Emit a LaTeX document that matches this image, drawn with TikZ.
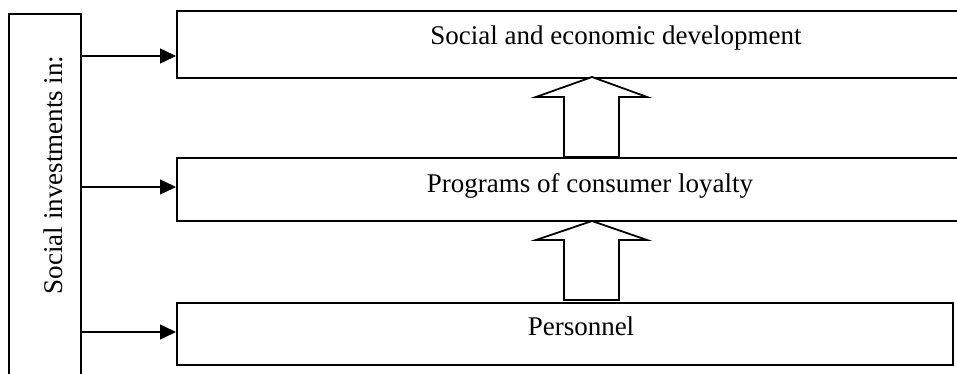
\documentclass[tikz,border=0pt]{standalone}
\usepackage{fontspec}
\setmainfont{Liberation Serif}
\usetikzlibrary{arrows.meta}
\begin{document}
\begin{tikzpicture}[x=1pt,y=-1pt,
  box/.style={draw,line width=1.8pt,rectangle,inner sep=0pt,anchor=north west},
  lbl/.style={font=\fontsize{27}{32}\selectfont,inner sep=0pt,anchor=base},
  feed/.style={line width=1.5pt,-{Triangle[length=16pt,width=15pt]}},
  bigarrow/.style={draw,line width=1.8pt,fill=white,line join=miter}]
\useasboundingbox (0,0) rectangle (957,374);
\clip (0,0) rectangle (957,374);

% vertical box on the left
\node[box,minimum width=72pt,minimum height=400pt] (inv) at (8,13) {};
\node[lbl,rotate=90] (invt) at (62,175) {Social investments in:};

% three level boxes
\node[box,minimum width=900pt,minimum height=67pt] (dev) at (176,10) {};
\node[box,minimum width=900pt,minimum height=63pt] (loy) at (176,157) {};
\node[box,minimum width=776pt,minimum height=62pt] (per) at (176,302) {};

\node[lbl] (devt) at (616,45) {Social and economic development};
\node[lbl] (loyt) at (590,192) {Programs of consumer loyalty};
\node[lbl] (pert) at (581,335) {Personnel};

% feeds from the left box
\coordinate (s1) at (inv.east |- 0,56);
\coordinate (s2) at (inv.east |- 0,187);
\coordinate (s3) at (inv.east |- 0,332);
\draw[feed] (s1) -- (s1 -| dev.west);
\draw[feed] (s2) -- (s2 -| loy.west);
\draw[feed] (s3) -- (s3 -| per.west);

% hollow block arrows between levels
\draw[bigarrow] (564,157) -- (564,97) -- (536,97) -- (592,77) -- (647,97) -- (619,97) -- (619,157) -- cycle;
\draw[bigarrow] (564,300) -- (564,240) -- (536,240) -- (592,221) -- (647,240) -- (619,240) -- (619,300) -- cycle;
\end{tikzpicture}
\end{document}
